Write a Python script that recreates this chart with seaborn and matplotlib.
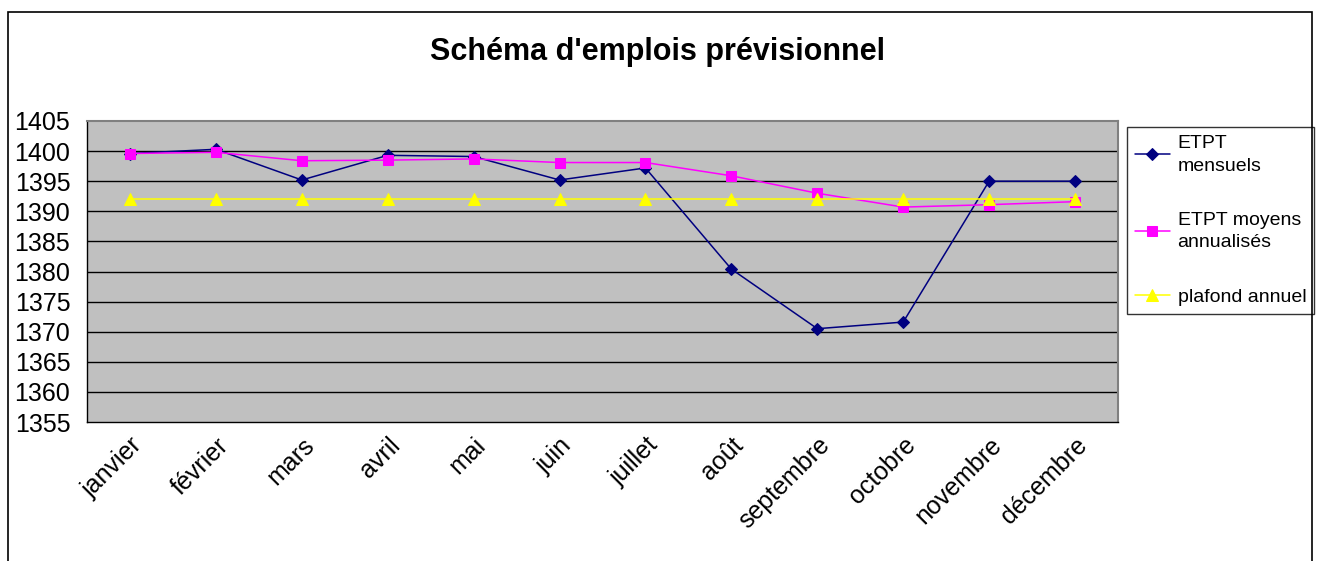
import numpy as np
import pandas as pd
import matplotlib.pyplot as plt
from matplotlib.patches import Rectangle
import seaborn as sns

# Data
mois = ['janvier', 'février', 'mars', 'avril', 'mai', 'juin',
        'juillet', 'août', 'septembre', 'octobre', 'novembre', 'décembre']
etpt_mensuels = [1399.6, 1400.3, 1395.2, 1399.3, 1399.1, 1395.2,
                 1397.2, 1380.4, 1370.5, 1371.6, 1395.0, 1395.0]
etpt_moyens = [1399.6, 1399.8, 1398.4, 1398.5, 1398.7, 1398.1,
               1398.1, 1395.9, 1393.0, 1390.7, 1391.1, 1391.6]
plafond = [1392.0] * 12
y_ticks = list(range(1355, 1406, 5))

sns.set_style('white')
plt.rcParams['font.family'] = ['Liberation Sans', 'DejaVu Sans']
plt.rcParams['text.color'] = 'black'
plt.rcParams['xtick.color'] = 'black'
plt.rcParams['ytick.color'] = 'black'

df = pd.DataFrame({'mois': mois, 'mensuels': etpt_mensuels,
                   'moyens': etpt_moyens, 'plafond': plafond})
df['pos'] = np.arange(len(mois))

fig = plt.figure(figsize=(13.18, 5.61), dpi=100)
ax = fig.add_axes([87 / 1318, 1 - 422 / 561, (1118 - 87) / 1318, (422 - 121) / 561])
ax.set_facecolor('#C0C0C0')

# outer chart frame
fig.patches.append(Rectangle((8 / 1318, -0.1), (1312 - 8) / 1318, 1.1 - 12 / 561,
                             transform=fig.transFigure, fill=False,
                             edgecolor='black', linewidth=1.2))

sns.lineplot(data=df, x='pos', y='mensuels', ax=ax, color='#000080', marker='D',
             markersize=6, markeredgecolor='#000080', linewidth=1.1,
             label='ETPT\nmensuels')
sns.lineplot(data=df, x='pos', y='moyens', ax=ax, color='#FF00FF', marker='s',
             markersize=7, markeredgecolor='#FF00FF', linewidth=1.1,
             label='ETPT moyens\nannualisés')
sns.lineplot(data=df, x='pos', y='plafond', ax=ax, color='#FFFF00', marker='^',
             markersize=8, markeredgecolor='#FFFF00', linewidth=1.1,
             label='plafond annuel')

ax.set_ylim(1355, 1405)
ax.set_xlim(-0.5, len(mois) - 0.5)
ax.set_yticks(y_ticks)
ax.set_yticklabels([str(v) for v in y_ticks], fontsize=18)
for v in y_ticks[1:-1]:
    ax.axhline(v, color='black', linewidth=1, zorder=0.5)

ax.set_xticks(df['pos'])
ax.set_xticklabels(mois, rotation=45, ha='right', rotation_mode='anchor', fontsize=18)
ax.set_xticks(np.arange(-0.5, len(mois)), minor=True)
ax.tick_params(axis='x', which='major', length=0, pad=8)
ax.tick_params(axis='x', which='minor', length=6, color='black', direction='out')
ax.tick_params(axis='y', length=6, color='black', direction='out', pad=6)
ax.set_xlabel('')
ax.set_ylabel('')

for side in ['left', 'bottom']:
    ax.spines[side].set_color('black')
    ax.spines[side].set_linewidth(1)
for side in ['top', 'right']:
    ax.spines[side].set_color('#808080')
    ax.spines[side].set_linewidth(1.5)

fig.text(657 / 1318, 1 - 52 / 561, "Schéma d'emplois prévisionnel",
         ha='center', va='center', fontsize=22, fontweight='bold')

leg = ax.legend(loc='upper left', bbox_to_anchor=(1127 / 1318, 1 - 127 / 561),
                bbox_transform=fig.transFigure, frameon=True, fancybox=False,
                fontsize=14, labelspacing=1.9, handlelength=1.8,
                borderaxespad=0, handletextpad=0.4, borderpad=0.4)
leg.get_frame().set_edgecolor('black')
leg.get_frame().set_linewidth(1)
for t in leg.get_texts():
    t.set_linespacing(1.45)

fig.savefig('out.png', dpi=100)
